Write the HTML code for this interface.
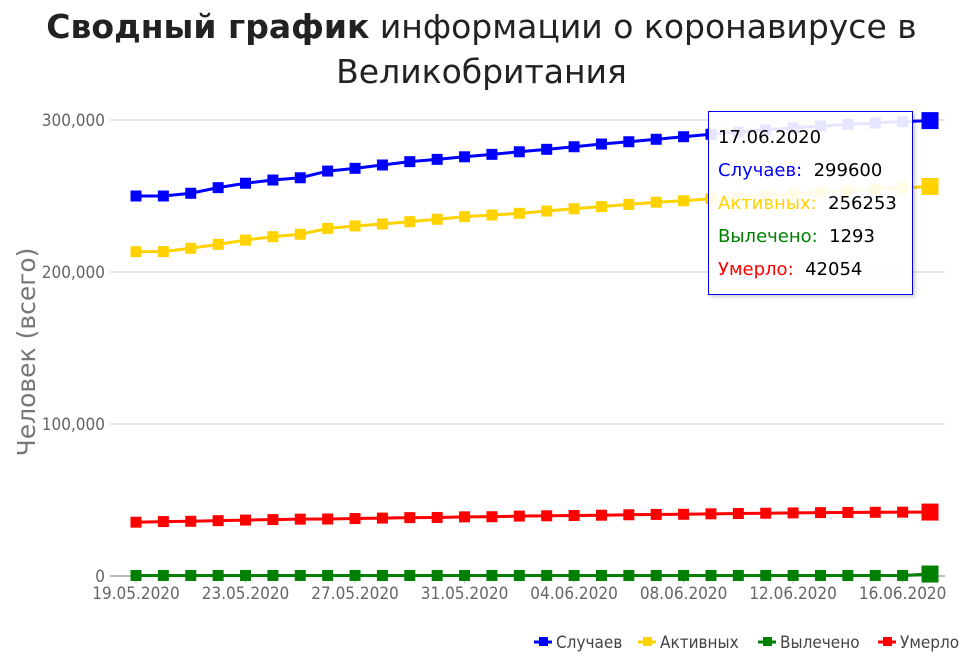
<!DOCTYPE html>
<html><head><meta charset="utf-8"><style>
body{margin:0;background:#fff;font-family:"DejaVu Sans","Liberation Sans",sans-serif;}
#wrap{position:relative;width:963px;height:656px;overflow:hidden;}
#title{position:absolute;left:0;top:4px;width:963px;text-align:center;font-size:33px;line-height:45px;color:#222;}
#tip{position:absolute;left:708px;top:111px;width:205px;height:184px;border:1px solid #0000ee;background:rgba(255,255,255,0.9);box-shadow:2px 2px 4px rgba(0,0,0,0.2);font-size:18px;line-height:33px;padding:9px 0 0 9px;box-sizing:border-box;}
</style></head><body>
<div id="wrap">
<div id="title"><b>Сводный график</b> информации о коронавирусе в<br>Великобритания</div>
<svg id="svg" width="963" height="656" style="position:absolute;left:0;top:0"></svg>
<div id="tip">
<div style="color:#000">17.06.2020</div>
<div><span style="color:#0000ff">Случаев:</span>&nbsp; 299600</div>
<div><span style="color:#ffd200">Активных:</span>&nbsp; 256253</div>
<div><span style="color:#008000">Вылечено:</span>&nbsp; 1293</div>
<div><span style="color:#ff0000">Умерло:</span>&nbsp; 42054</div>
</div>
</div>
<script>
const dates=["19.05.2020","20.05.2020","21.05.2020","22.05.2020","23.05.2020","24.05.2020","25.05.2020","26.05.2020","27.05.2020","28.05.2020","29.05.2020","30.05.2020","31.05.2020","01.06.2020","02.06.2020","03.06.2020","04.06.2020","05.06.2020","06.06.2020","07.06.2020","08.06.2020","09.06.2020","10.06.2020","11.06.2020","12.06.2020","13.06.2020","14.06.2020","15.06.2020","16.06.2020","17.06.2020"];
const cases=[250000,250000,251800,255500,258400,260500,262000,266400,268200,270400,272600,274100,275800,277400,279100,280700,282400,284200,285700,287300,289000,290600,292100,293500,294800,296000,297100,298000,298900,299600];
const active=[213400,213400,215600,218200,221000,223200,224800,228700,230300,231600,233100,234700,236400,237500,238600,240100,241600,243000,244500,245900,246900,248200,249300,250400,251500,252600,253500,254400,255300,256253];
const recovered=[344,344,344,344,344,344,344,344,344,344,344,344,344,344,344,344,344,344,344,344,344,344,344,344,344,344,344,344,344,1293];
const deaths=[35400,35800,36000,36400,36800,37100,37400,37500,37800,38100,38400,38500,38900,39000,39400,39600,39800,40000,40300,40500,40600,40900,41100,41300,41500,41700,41800,41900,42000,42054];
const yTicks=[0,100000,200000,300000];
const yTickLabels=["0","100,000","200,000","300,000"];
const series=[{name:"Случаев",key:"cases",data:cases,color:"#0000ff"},{name:"Активных",key:"active",data:active,color:"#ffd200"},{name:"Вылечено",key:"recovered",data:recovered,color:"#008000"},{name:"Умерло",key:"deaths",data:deaths,color:"#ff0000"}];
const NS="http://www.w3.org/2000/svg";
const svg=document.getElementById('svg');
const X0=136,DX=(930-136)/(dates.length-1);
function xs(i){return X0+i*DX;}
function ys(v){return 576-v*152/100000;}
function mk(t,a,p){const e=document.createElementNS(NS,t);for(const k in a)e.setAttribute(k,a[k]);(p||svg).appendChild(e);return e;}
yTicks.forEach((v,i)=>{
 const l=mk('line',{x1:110,x2:945,y1:ys(v),y2:ys(v),stroke:v===0?'#bbb':'#ccc','stroke-width':v===0?2:1});
 
 
 const t=mk('text',{x:105,y:ys(v)+6,'text-anchor':'end','font-size':17,fill:'#666','font-family':'DejaVu Sans Condensed, DejaVu Sans, sans-serif'});
 t.textContent=yTickLabels[i];
 
 
});
dates.forEach((d,i)=>{
 if(i%4!==0)return;
 const tk=mk('line',{x1:xs(i),x2:xs(i),y1:577,y2:583,stroke:'#bbb'});
 
 
 const t=mk('text',{x:xs(i),y:599,'text-anchor':'middle','font-size':17,fill:'#666','font-family':'DejaVu Sans Condensed, DejaVu Sans, sans-serif'});
 t.textContent=d;
 
 
});
const at=mk('text',{x:0,y:0,transform:'translate(35,352) rotate(-90)','text-anchor':'middle','font-size':25,fill:'#777'});
at.textContent='Человек (всего)';


series.slice().reverse().forEach(s=>{
 const g=mk('g',{});
 
 
 const pl=mk('polyline',{points:s.data.map((v,i)=>xs(i)+','+ys(v)).join(' '),fill:'none',stroke:s.color,'stroke-width':3},g);
 
 
 s.data.forEach((v,i)=>{
  const last=i===s.data.length-1, sz=last?17:11;
  const r=mk('rect',{x:xs(i)-sz/2,y:ys(v)-sz/2,width:sz,height:sz,fill:s.color},g);
  
  
 });
});
let lx=960;
const lw=[96,112,112,82];
for(let k=series.length-1;k>=0;k--){
 const s=series[k];
 const g=mk('g',{});
 
 
 const x=lx-lw[k];
 mk('line',{x1:x,x2:x+18,y1:642,y2:642,stroke:s.color,'stroke-width':3},g);
 mk('rect',{x:x+5,y:637,width:9,height:9,fill:s.color},g);
 const t=mk('text',{x:x+22,y:648,'font-size':17,fill:'#444','font-family':'DejaVu Sans Condensed, DejaVu Sans, sans-serif'},g);
 t.textContent=s.name;
 lx=x-8;
}
</script>
</body></html>
